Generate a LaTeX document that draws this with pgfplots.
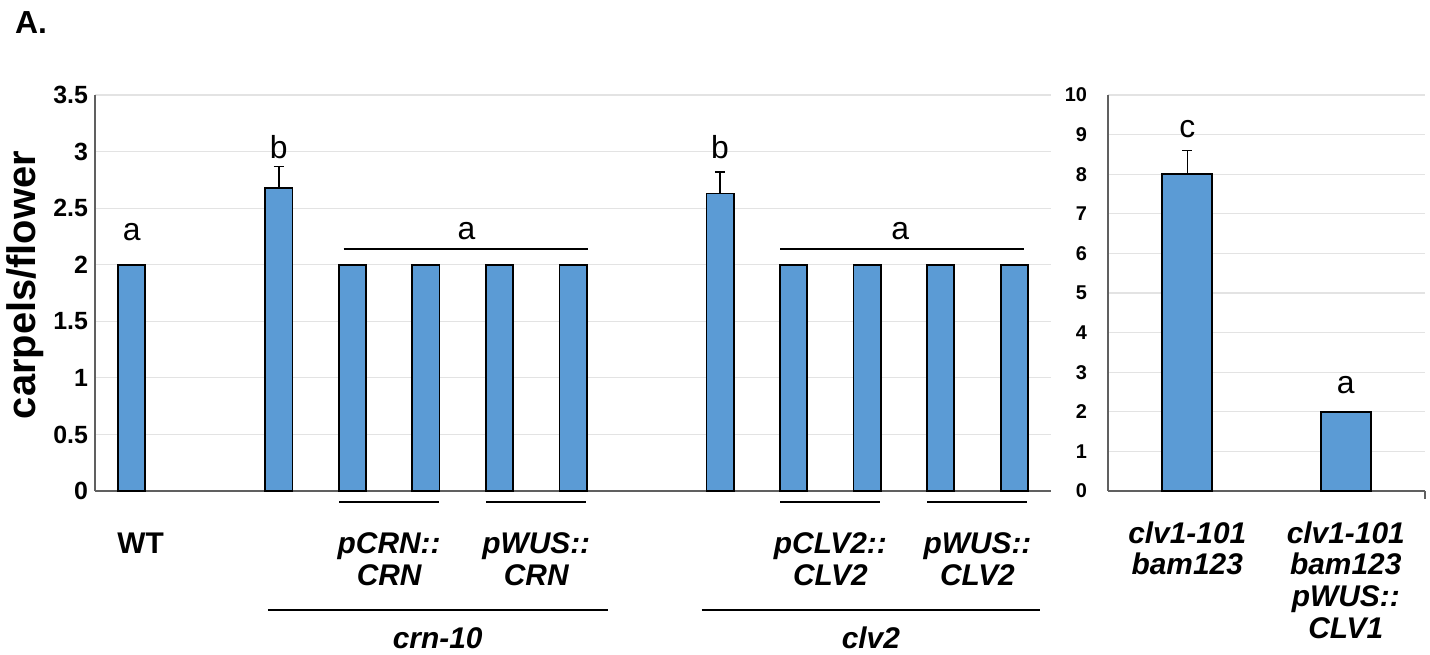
\documentclass[border=0pt]{standalone}
\usepackage{fontspec}
\setmainfont{Liberation Sans}
\usepackage{pgfplots}
\pgfplotsset{compat=1.18}
\definecolor{barblue}{HTML}{5B9BD5}
\tikzset{
  lab/.style={font=\bfseries\itshape\fontsize{15}{16}\selectfont, anchor=base, inner sep=0pt},
  let/.style={font=\fontsize{16}{18}\selectfont, inner sep=0pt},
  bl/.style={black, line width=1.2bp},
}
\pgfplotsset{
  common/.style={
    scale only axis, height=198bp, anchor=south west,
    xtick=\empty, ymin=0,
    axis x line*=bottom, axis y line*=left,
    axis line style={gray!75!black, line width=0.6bp},
    ymajorgrids, major grid style={gray!22, line width=0.6bp},
    major tick length=0pt,
    /pgf/number format/assume math mode=true,
    clip=false,
  },
  barst/.style={ybar, bar shift=0pt, fill=barblue, draw=black, line width=0.9bp},
  errst/.style={error bars/.cd, y dir=plus, y explicit,
    error bar style={black, line width=0.7bp},
    error mark options={rotate=90, mark size=2.6bp, black, line width=0.7bp}},
}
\begin{document}
\begin{tikzpicture}
\useasboundingbox (0,0) rectangle (715bp,327.5bp);
\node[anchor=west, font=\bfseries\fontsize{16}{18}\selectfont] at (4bp,316bp) {A.};
\begin{axis}[common,
  at={(47.5bp,82bp)}, width=478bp,
  xmin=-0.5, xmax=12.5, ymax=3.5, ytick={0,0.5,1,1.5,2,2.5,3,3.5},
  yticklabel style={font=\bfseries\fontsize{12.5}{14}\selectfont},
  ylabel={carpels/flower},
  every axis y label/.style={at={(axis description cs:0,0.5)}, xshift=-35bp, yshift=4bp,
    rotate=90, anchor=center, font=\bfseries\fontsize{20}{22}\selectfont},
]
\addplot[barst, bar width=0.37] coordinates {(0,2) (3,2) (4,2) (5,2) (6,2) (9,2) (10,2) (11,2) (12,2)};
\addplot[barst, bar width=0.37, errst] coordinates {(2,2.68) +- (0,0.19) (8,2.63) +- (0,0.19)};
% significance letters
\node[let] at (axis cs:0,2.29) {a};
\node[let] at (axis cs:2,3.04) {b};
\node[let] at (axis cs:8,3.04) {b};
\node[let] at (axis cs:4.55,2.30) {a};
\node[let] at (axis cs:10.45,2.30) {a};
\draw[bl] (axis cs:2.88,2.14) -- (axis cs:6.2,2.14);
\draw[bl] (axis cs:8.82,2.14) -- (axis cs:12.13,2.14);
% group lines below axis
\draw[bl] ([yshift=-5.5bp]axis cs:2.82,0) -- ([yshift=-5.5bp]axis cs:4.18,0);
\draw[bl] ([yshift=-5.5bp]axis cs:4.82,0) -- ([yshift=-5.5bp]axis cs:6.18,0);
\draw[bl] ([yshift=-5.5bp]axis cs:8.82,0) -- ([yshift=-5.5bp]axis cs:10.18,0);
\draw[bl] ([yshift=-5.5bp]axis cs:10.82,0) -- ([yshift=-5.5bp]axis cs:12.18,0);
\draw[bl] ([yshift=-59.5bp]axis cs:1.85,0) -- ([yshift=-59.5bp]axis cs:6.47,0);
\draw[bl] ([yshift=-59.5bp]axis cs:7.75,0) -- ([yshift=-59.5bp]axis cs:12.35,0);
% labels
\node[lab, font=\bfseries\fontsize{15}{16}\selectfont] at ([yshift=-31bp]axis cs:0.12,0) {WT};
\node[lab] at ([yshift=-31bp]axis cs:3.5,0) {pCRN::};
\node[lab] at ([yshift=-47bp]axis cs:3.5,0) {CRN};
\node[lab] at ([yshift=-31bp]axis cs:5.5,0) {pWUS::};
\node[lab] at ([yshift=-47bp]axis cs:5.5,0) {CRN};
\node[lab] at ([yshift=-31bp]axis cs:9.5,0) {pCLV2::};
\node[lab] at ([yshift=-47bp]axis cs:9.5,0) {CLV2};
\node[lab] at ([yshift=-31bp]axis cs:11.5,0) {pWUS::};
\node[lab] at ([yshift=-47bp]axis cs:11.5,0) {CLV2};
\node[lab] at ([yshift=-78.5bp]axis cs:4.16,0) {crn-10};
\node[lab] at ([yshift=-78.5bp]axis cs:10.05,0) {clv2};
\end{axis}
\begin{axis}[common,
  at={(554bp,82bp)}, width=158.5bp,
  xmin=-0.5, xmax=1.5, ymax=10, ytick={0,1,...,10},
  yticklabel style={font=\bfseries\fontsize{10}{12}\selectfont, xshift=-7bp},
]
\addplot[barst, bar width=0.315] coordinates {(1,2)};
\addplot[barst, bar width=0.315, errst] coordinates {(0,8) +- (0,0.6)};
\node[let] at (axis cs:0,9.14) {c};
\node[let] at (axis cs:1,2.68) {a};
\draw[gray!75!black, line width=0.6bp] (rel axis cs:1,0) -- ([yshift=-4bp]rel axis cs:1,0);
\node[lab] at ([yshift=-26bp]axis cs:0,0) {clv1-101};
\node[lab] at ([yshift=-41.5bp]axis cs:0,0) {bam123};
\node[lab] at ([yshift=-26bp]axis cs:1,0) {clv1-101};
\node[lab] at ([yshift=-41.5bp]axis cs:1,0) {bam123};
\node[lab] at ([yshift=-57.5bp]axis cs:1,0) {pWUS::};
\node[lab] at ([yshift=-73.5bp]axis cs:1,0) {CLV1};
\end{axis}
\end{tikzpicture}
\end{document}
